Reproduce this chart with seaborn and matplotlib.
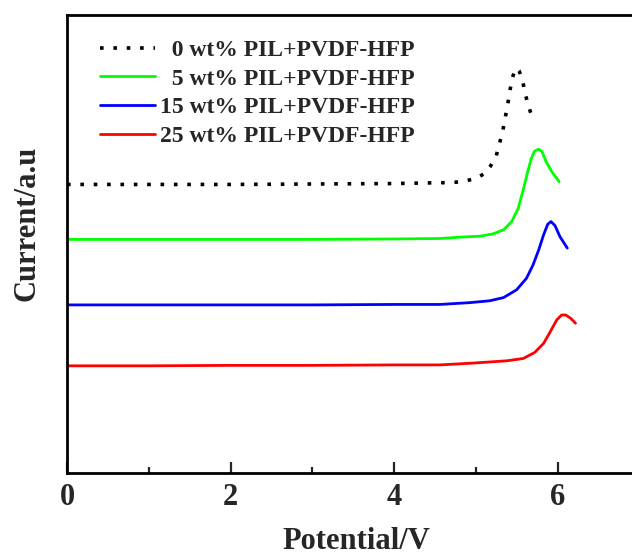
import matplotlib
matplotlib.use("Agg")
import matplotlib.pyplot as plt
import seaborn as sns
import pandas as pd
from matplotlib.ticker import MultipleLocator, NullLocator

# ---- data ----
labels = ["  0 wt% PIL+PVDF-HFP", "  5 wt% PIL+PVDF-HFP",
          "15 wt% PIL+PVDF-HFP", "25 wt% PIL+PVDF-HFP"]

x0 = [0, 1, 2, 3, 4, 4.30, 4.64, 4.76, 4.88, 5.00, 5.10, 5.18, 5.25, 5.29, 5.33,
      5.36, 5.39, 5.42, 5.45, 5.48, 5.50, 5.53, 5.57, 5.60, 5.64, 5.69]
y0 = [6.30, 6.30, 6.30, 6.31, 6.32, 6.33, 6.34, 6.35, 6.38, 6.43, 6.53, 6.70, 6.92,
      7.19, 7.47, 7.75, 8.04, 8.37, 8.64, 8.80, 8.84, 8.78, 8.60, 8.32, 8.04, 7.77]

x5 = [0, 1, 2, 3, 4, 4.56, 4.81, 5.05, 5.21, 5.34, 5.44, 5.52, 5.58, 5.63, 5.68,
      5.72, 5.77, 5.81, 5.86, 5.93, 6.02]
y5 = [5.10, 5.10, 5.10, 5.10, 5.11, 5.12, 5.15, 5.17, 5.22, 5.31, 5.49, 5.78, 6.18,
      6.54, 6.87, 7.03, 7.07, 7.02, 6.80, 6.58, 6.36]

x15 = [0, 1, 2, 3, 4, 4.56, 4.93, 5.17, 5.34, 5.50, 5.62, 5.70, 5.77, 5.83, 5.88,
       5.92, 5.97, 6.03, 6.12]
y15 = [3.67, 3.67, 3.67, 3.67, 3.68, 3.68, 3.72, 3.76, 3.83, 4.00, 4.25, 4.54, 4.87,
       5.20, 5.43, 5.49, 5.40, 5.16, 4.91]

x25 = [0, 1, 2, 3, 4, 4.56, 4.97, 5.38, 5.58, 5.72, 5.83, 5.91, 5.99, 6.05, 6.10,
       6.16, 6.22]
y25 = [2.34, 2.34, 2.35, 2.35, 2.36, 2.36, 2.40, 2.45, 2.50, 2.63, 2.83, 3.08, 3.34,
       3.45, 3.45, 3.38, 3.27]

xs = [x0, x5, x15, x25]
ys = [y0, y5, y15, y25]
colors = ["#000000", "#00FF00", "#0000FF", "#FF0000"]

sns.set_style("ticks")
plt.rcParams["font.family"] = ["Liberation Serif", "DejaVu Serif"]
plt.rcParams["font.weight"] = "bold"

fig = plt.figure(figsize=(6.32, 5.55), dpi=100)
ax = fig.add_axes([67 / 632, (555 - 473) / 555, 572.25 / 632, 458 / 555])

for lab, xv, yv, c in zip(labels, xs, ys, colors):
    df = pd.DataFrame({"x": xv, "y": yv})
    ls = (0, (1.0, 2.7)) if c == "#000000" else "-"
    lw = 2.6 if c == "#000000" else 2.0
    sns.lineplot(data=df, x="x", y="y", ax=ax, color=c, linewidth=lw,
                 linestyle=ls, sort=False, label=lab, estimator=None)

ax.set_xlim(0, 7)
ax.set_ylim(0, 10)
ax.xaxis.set_major_locator(MultipleLocator(2))
ax.xaxis.set_minor_locator(MultipleLocator(1))
ax.yaxis.set_major_locator(NullLocator())
ax.tick_params(axis="x", which="major", direction="in", length=8, width=1.6,
               labelsize=22, pad=7)
ax.tick_params(axis="x", which="minor", direction="in", length=4, width=1.6)
for t in ax.get_xticklabels():
    t.set_fontweight("bold")

for s in ["left", "top", "bottom", "right"]:
    ax.spines[s].set_linewidth(2.0)
    ax.spines[s].set_color("black")

ax.set_xlabel("Potential/V", fontsize=22, fontweight="bold")
ax.set_ylabel("Current/a.u", fontsize=22, fontweight="bold")
ax.xaxis.set_label_coords(0.505, -0.117)
ax.yaxis.set_label_coords(-0.045, 0.545)

leg = ax.legend(loc="upper left", bbox_to_anchor=(0.042, 0.967), frameon=False,
                prop={"family": "Liberation Serif", "weight": "bold", "size": 17},
                handlelength=2.3, handletextpad=0.2, labelspacing=0.3,
                borderaxespad=0)

fig.savefig("out.png", dpi=100)
